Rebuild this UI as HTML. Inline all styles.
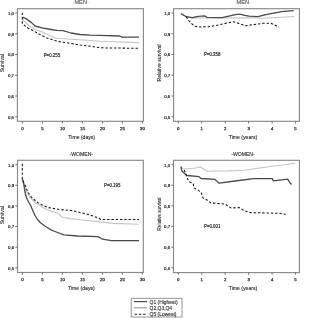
<!DOCTYPE html>
<html><head><meta charset="utf-8"><style>
html,body{margin:0;padding:0;background:#fff;width:300px;height:318px;overflow:hidden}
svg{display:block;filter:blur(0.5px)}
text{font-family:"Liberation Sans", sans-serif;fill:#2a2a2a;stroke:#2a2a2a;stroke-width:0.12px}
</style></head><body>
<svg width="300" height="318" viewBox="0 0 300 318">
<rect x="17.4" y="8.7" width="126.0" height="112.6" fill="none" stroke="#8a8a8a" stroke-width="1.15"/>
<line x1="15.2" y1="13.00" x2="17.4" y2="13.00" stroke="#5a5a5a" stroke-width="0.85"/>
<text x="13.999999999999998" y="14.85" text-anchor="end" font-size="4.3" style="stroke-width:0.22px">1,0</text>
<line x1="15.2" y1="33.76" x2="17.4" y2="33.76" stroke="#5a5a5a" stroke-width="0.85"/>
<text x="13.999999999999998" y="35.61" text-anchor="end" font-size="4.3" style="stroke-width:0.22px">0,9</text>
<line x1="15.2" y1="54.52" x2="17.4" y2="54.52" stroke="#5a5a5a" stroke-width="0.85"/>
<text x="13.999999999999998" y="56.37" text-anchor="end" font-size="4.3" style="stroke-width:0.22px">0,8</text>
<line x1="15.2" y1="75.28" x2="17.4" y2="75.28" stroke="#5a5a5a" stroke-width="0.85"/>
<text x="13.999999999999998" y="77.13" text-anchor="end" font-size="4.3" style="stroke-width:0.22px">0,7</text>
<line x1="15.2" y1="96.04" x2="17.4" y2="96.04" stroke="#5a5a5a" stroke-width="0.85"/>
<text x="13.999999999999998" y="97.89" text-anchor="end" font-size="4.3" style="stroke-width:0.22px">0,6</text>
<line x1="15.2" y1="116.80" x2="17.4" y2="116.80" stroke="#5a5a5a" stroke-width="0.85"/>
<text x="13.999999999999998" y="118.65" text-anchor="end" font-size="4.3" style="stroke-width:0.22px">0,5</text>
<line x1="22.40" y1="121.3" x2="22.40" y2="123.5" stroke="#5a5a5a" stroke-width="0.85"/>
<text x="22.40" y="130.00" text-anchor="middle" font-size="4.3" style="stroke-width:0.25px">0</text>
<line x1="42.40" y1="121.3" x2="42.40" y2="123.5" stroke="#5a5a5a" stroke-width="0.85"/>
<text x="42.40" y="130.00" text-anchor="middle" font-size="4.3" style="stroke-width:0.25px">5</text>
<line x1="62.40" y1="121.3" x2="62.40" y2="123.5" stroke="#5a5a5a" stroke-width="0.85"/>
<text x="62.40" y="130.00" text-anchor="middle" font-size="4.3" style="stroke-width:0.25px">10</text>
<line x1="82.40" y1="121.3" x2="82.40" y2="123.5" stroke="#5a5a5a" stroke-width="0.85"/>
<text x="82.40" y="130.00" text-anchor="middle" font-size="4.3" style="stroke-width:0.25px">15</text>
<line x1="102.40" y1="121.3" x2="102.40" y2="123.5" stroke="#5a5a5a" stroke-width="0.85"/>
<text x="102.40" y="130.00" text-anchor="middle" font-size="4.3" style="stroke-width:0.25px">20</text>
<line x1="122.40" y1="121.3" x2="122.40" y2="123.5" stroke="#5a5a5a" stroke-width="0.85"/>
<text x="122.40" y="130.00" text-anchor="middle" font-size="4.3" style="stroke-width:0.25px">25</text>
<line x1="142.40" y1="121.3" x2="142.40" y2="123.5" stroke="#5a5a5a" stroke-width="0.85"/>
<text x="142.40" y="130.00" text-anchor="middle" font-size="4.3" style="stroke-width:0.25px">30</text>
<text x="80.7" y="3.9" text-anchor="middle" font-size="5.7" fill-opacity="0.75" stroke-opacity="0.75"><tspan fill-opacity="0.3" stroke-opacity="0.3">-</tspan>MEN<tspan fill-opacity="0.3" stroke-opacity="0.3">-</tspan></text>
<text x="81.7" y="138.9" text-anchor="middle" font-size="5.1">Time (days)</text>
<text transform="translate(3.94,63.1) rotate(-90)" text-anchor="middle" font-size="5.1">Survival</text>
<text transform="translate(43.7,56.6) scale(0.84,1)" font-size="5.2" style="fill:#262626;stroke:#262626;stroke-width:0.2px">P=0.255</text>
<polyline points="22.3,19.5 30.0,26.5 36.0,29.5 42.0,32.0 55.0,38.0 60.0,38.5 80.0,39.7 100.0,41.2 139.0,42.6" fill="none" stroke="#c4c4c4" stroke-width="1.1" stroke-linejoin="round"/>
<polyline points="22.3,17.2 26.0,18.6 31.5,22.6 35.0,26.0 42.0,27.8 54.0,30.0 57.0,30.3 63.0,30.6 71.0,33.0 80.0,34.5 90.0,35.1 100.0,35.4 119.5,36.0 122.0,37.2 139.0,37.2" fill="none" stroke="#4a4a4a" stroke-width="1.3" stroke-linejoin="round"/>
<polyline points="22.3,12.7 22.3,23.4 24.7,25.7 28.2,28.2 31.5,29.8 39.0,34.0 47.0,38.0 55.0,40.6 60.0,41.7 80.0,44.9 100.0,47.6 105.0,47.9 139.0,48.3" fill="none" stroke="#151515" stroke-width="1.05" stroke-dasharray="2.4,1.9"/>
<rect x="173.6" y="8.7" width="125.79999999999998" height="112.6" fill="none" stroke="#8a8a8a" stroke-width="1.15"/>
<line x1="171.4" y1="13.00" x2="173.6" y2="13.00" stroke="#5a5a5a" stroke-width="0.85"/>
<text x="170.2" y="14.85" text-anchor="end" font-size="4.3" style="stroke-width:0.22px">1,0</text>
<line x1="171.4" y1="33.76" x2="173.6" y2="33.76" stroke="#5a5a5a" stroke-width="0.85"/>
<text x="170.2" y="35.61" text-anchor="end" font-size="4.3" style="stroke-width:0.22px">0,9</text>
<line x1="171.4" y1="54.52" x2="173.6" y2="54.52" stroke="#5a5a5a" stroke-width="0.85"/>
<text x="170.2" y="56.37" text-anchor="end" font-size="4.3" style="stroke-width:0.22px">0,8</text>
<line x1="171.4" y1="75.28" x2="173.6" y2="75.28" stroke="#5a5a5a" stroke-width="0.85"/>
<text x="170.2" y="77.13" text-anchor="end" font-size="4.3" style="stroke-width:0.22px">0,7</text>
<line x1="171.4" y1="96.04" x2="173.6" y2="96.04" stroke="#5a5a5a" stroke-width="0.85"/>
<text x="170.2" y="97.89" text-anchor="end" font-size="4.3" style="stroke-width:0.22px">0,6</text>
<line x1="171.4" y1="116.80" x2="173.6" y2="116.80" stroke="#5a5a5a" stroke-width="0.85"/>
<text x="170.2" y="118.65" text-anchor="end" font-size="4.3" style="stroke-width:0.22px">0,5</text>
<line x1="178.30" y1="121.3" x2="178.30" y2="123.5" stroke="#5a5a5a" stroke-width="0.85"/>
<text x="178.30" y="130.00" text-anchor="middle" font-size="4.3" style="stroke-width:0.25px">0</text>
<line x1="201.75" y1="121.3" x2="201.75" y2="123.5" stroke="#5a5a5a" stroke-width="0.85"/>
<text x="201.75" y="130.00" text-anchor="middle" font-size="4.3" style="stroke-width:0.25px">1</text>
<line x1="225.20" y1="121.3" x2="225.20" y2="123.5" stroke="#5a5a5a" stroke-width="0.85"/>
<text x="225.20" y="130.00" text-anchor="middle" font-size="4.3" style="stroke-width:0.25px">2</text>
<line x1="248.65" y1="121.3" x2="248.65" y2="123.5" stroke="#5a5a5a" stroke-width="0.85"/>
<text x="248.65" y="130.00" text-anchor="middle" font-size="4.3" style="stroke-width:0.25px">3</text>
<line x1="272.10" y1="121.3" x2="272.10" y2="123.5" stroke="#5a5a5a" stroke-width="0.85"/>
<text x="272.10" y="130.00" text-anchor="middle" font-size="4.3" style="stroke-width:0.25px">4</text>
<line x1="295.55" y1="121.3" x2="295.55" y2="123.5" stroke="#5a5a5a" stroke-width="0.85"/>
<text x="295.55" y="130.00" text-anchor="middle" font-size="4.3" style="stroke-width:0.25px">5</text>
<text x="242.9" y="3.9" text-anchor="middle" font-size="5.7" fill-opacity="0.75" stroke-opacity="0.75"><tspan fill-opacity="0.3" stroke-opacity="0.3">-</tspan>MEN<tspan fill-opacity="0.3" stroke-opacity="0.3">-</tspan></text>
<text x="243" y="139.0" text-anchor="middle" font-size="5.1">Time (years)</text>
<text transform="translate(161.44,63) rotate(-90)" text-anchor="middle" font-size="5.1">Relative survival</text>
<text transform="translate(204,56.4) scale(0.84,1)" font-size="5.2" style="fill:#262626;stroke:#262626;stroke-width:0.2px">P=0.358</text>
<polyline points="181.0,13.6 186.3,16.7 190.0,18.0 215.0,18.0 250.0,17.7 263.3,18.3 294.5,16.5" fill="none" stroke="#c4c4c4" stroke-width="1.1" stroke-linejoin="round"/>
<polyline points="181.0,13.6 186.3,16.7 192.3,17.7 198.3,16.3 205.0,15.9 207.0,17.4 222.0,17.7 236.7,14.3 240.7,14.3 244.7,15.3 249.0,16.2 257.8,16.6 267.0,14.3 281.7,11.6 293.6,10.7" fill="none" stroke="#4a4a4a" stroke-width="1.3" stroke-linejoin="round"/>
<polyline points="186.3,16.7 188.3,20.3 191.7,23.7 195.0,26.3 199.7,27.0 208.3,26.7 215.0,25.7 233.3,21.7 246.0,25.7 263.3,23.3 270.7,23.3 279.0,27.0" fill="none" stroke="#151515" stroke-width="1.05" stroke-dasharray="2.4,1.9"/>
<rect x="17.5" y="160.3" width="125.80000000000001" height="112.19999999999999" fill="none" stroke="#8a8a8a" stroke-width="1.15"/>
<line x1="15.3" y1="164.70" x2="17.5" y2="164.70" stroke="#5a5a5a" stroke-width="0.85"/>
<text x="14.1" y="166.55" text-anchor="end" font-size="4.3" style="stroke-width:0.22px">1,0</text>
<line x1="15.3" y1="185.32" x2="17.5" y2="185.32" stroke="#5a5a5a" stroke-width="0.85"/>
<text x="14.1" y="187.17" text-anchor="end" font-size="4.3" style="stroke-width:0.22px">0,9</text>
<line x1="15.3" y1="205.94" x2="17.5" y2="205.94" stroke="#5a5a5a" stroke-width="0.85"/>
<text x="14.1" y="207.79" text-anchor="end" font-size="4.3" style="stroke-width:0.22px">0,8</text>
<line x1="15.3" y1="226.56" x2="17.5" y2="226.56" stroke="#5a5a5a" stroke-width="0.85"/>
<text x="14.1" y="228.41" text-anchor="end" font-size="4.3" style="stroke-width:0.22px">0,7</text>
<line x1="15.3" y1="247.18" x2="17.5" y2="247.18" stroke="#5a5a5a" stroke-width="0.85"/>
<text x="14.1" y="249.03" text-anchor="end" font-size="4.3" style="stroke-width:0.22px">0,6</text>
<line x1="15.3" y1="267.80" x2="17.5" y2="267.80" stroke="#5a5a5a" stroke-width="0.85"/>
<text x="14.1" y="269.65" text-anchor="end" font-size="4.3" style="stroke-width:0.22px">0,5</text>
<line x1="22.40" y1="272.5" x2="22.40" y2="274.7" stroke="#5a5a5a" stroke-width="0.85"/>
<text x="22.40" y="280.80" text-anchor="middle" font-size="4.3" style="stroke-width:0.25px">0</text>
<line x1="42.40" y1="272.5" x2="42.40" y2="274.7" stroke="#5a5a5a" stroke-width="0.85"/>
<text x="42.40" y="280.80" text-anchor="middle" font-size="4.3" style="stroke-width:0.25px">5</text>
<line x1="62.40" y1="272.5" x2="62.40" y2="274.7" stroke="#5a5a5a" stroke-width="0.85"/>
<text x="62.40" y="280.80" text-anchor="middle" font-size="4.3" style="stroke-width:0.25px">10</text>
<line x1="82.40" y1="272.5" x2="82.40" y2="274.7" stroke="#5a5a5a" stroke-width="0.85"/>
<text x="82.40" y="280.80" text-anchor="middle" font-size="4.3" style="stroke-width:0.25px">15</text>
<line x1="102.40" y1="272.5" x2="102.40" y2="274.7" stroke="#5a5a5a" stroke-width="0.85"/>
<text x="102.40" y="280.80" text-anchor="middle" font-size="4.3" style="stroke-width:0.25px">20</text>
<line x1="122.40" y1="272.5" x2="122.40" y2="274.7" stroke="#5a5a5a" stroke-width="0.85"/>
<text x="122.40" y="280.80" text-anchor="middle" font-size="4.3" style="stroke-width:0.25px">25</text>
<line x1="142.40" y1="272.5" x2="142.40" y2="274.7" stroke="#5a5a5a" stroke-width="0.85"/>
<text x="142.40" y="280.80" text-anchor="middle" font-size="4.3" style="stroke-width:0.25px">30</text>
<text x="81.3" y="155.8" text-anchor="middle" font-size="5.1">-WOMEN-</text>
<text x="81.4" y="290.3" text-anchor="middle" font-size="5.1">Time (days)</text>
<text transform="translate(3.84,215.2) rotate(-90)" text-anchor="middle" font-size="5.1">Survival</text>
<text transform="translate(104,187.1) scale(0.84,1)" font-size="5.2" style="fill:#262626;stroke:#262626;stroke-width:0.2px">P=0.195</text>
<polyline points="22.3,178.7 24.0,184.0 25.5,189.0 27.5,193.5 30.0,197.5 35.7,203.0 43.6,208.0 51.5,211.3 58.0,213.3 62.0,217.0 70.0,218.6 85.0,220.2 98.0,221.6 113.0,223.4 139.0,224.2" fill="none" stroke="#c4c4c4" stroke-width="1.1" stroke-linejoin="round"/>
<polyline points="22.3,178.7 22.7,180.0 23.8,184.2 24.6,190.0 25.8,195.8 27.5,200.0 30.4,205.0 33.0,211.0 35.0,215.5 37.5,219.5 40.5,222.8 45.2,226.2 51.5,230.2 55.0,231.5 64.0,234.8 77.5,236.0 98.0,236.6 102.5,239.2 111.5,240.7 139.0,240.7" fill="none" stroke="#4a4a4a" stroke-width="1.3" stroke-linejoin="round"/>
<polyline points="22.3,163.8 22.3,178.7 23.3,181.7 25.4,185.8 27.1,190.4 29.2,194.2 31.7,197.5 35.0,200.4 38.3,202.9 41.7,204.8 48.3,207.6 60.0,209.6 71.5,210.5 80.0,212.5 88.5,214.5 98.0,217.8 101.0,219.5 139.0,219.5" fill="none" stroke="#151515" stroke-width="1.05" stroke-dasharray="2.4,1.9"/>
<rect x="173.5" y="160.3" width="125.89999999999998" height="112.30000000000001" fill="none" stroke="#8a8a8a" stroke-width="1.15"/>
<line x1="171.3" y1="164.70" x2="173.5" y2="164.70" stroke="#5a5a5a" stroke-width="0.85"/>
<text x="170.1" y="166.55" text-anchor="end" font-size="4.3" style="stroke-width:0.22px">1,0</text>
<line x1="171.3" y1="185.32" x2="173.5" y2="185.32" stroke="#5a5a5a" stroke-width="0.85"/>
<text x="170.1" y="187.17" text-anchor="end" font-size="4.3" style="stroke-width:0.22px">0,9</text>
<line x1="171.3" y1="205.94" x2="173.5" y2="205.94" stroke="#5a5a5a" stroke-width="0.85"/>
<text x="170.1" y="207.79" text-anchor="end" font-size="4.3" style="stroke-width:0.22px">0,8</text>
<line x1="171.3" y1="226.56" x2="173.5" y2="226.56" stroke="#5a5a5a" stroke-width="0.85"/>
<text x="170.1" y="228.41" text-anchor="end" font-size="4.3" style="stroke-width:0.22px">0,7</text>
<line x1="171.3" y1="247.18" x2="173.5" y2="247.18" stroke="#5a5a5a" stroke-width="0.85"/>
<text x="170.1" y="249.03" text-anchor="end" font-size="4.3" style="stroke-width:0.22px">0,6</text>
<line x1="171.3" y1="267.80" x2="173.5" y2="267.80" stroke="#5a5a5a" stroke-width="0.85"/>
<text x="170.1" y="269.65" text-anchor="end" font-size="4.3" style="stroke-width:0.22px">0,5</text>
<line x1="178.30" y1="272.6" x2="178.30" y2="274.8" stroke="#5a5a5a" stroke-width="0.85"/>
<text x="178.30" y="280.70" text-anchor="middle" font-size="4.3" style="stroke-width:0.25px">0</text>
<line x1="201.75" y1="272.6" x2="201.75" y2="274.8" stroke="#5a5a5a" stroke-width="0.85"/>
<text x="201.75" y="280.70" text-anchor="middle" font-size="4.3" style="stroke-width:0.25px">1</text>
<line x1="225.20" y1="272.6" x2="225.20" y2="274.8" stroke="#5a5a5a" stroke-width="0.85"/>
<text x="225.20" y="280.70" text-anchor="middle" font-size="4.3" style="stroke-width:0.25px">2</text>
<line x1="248.65" y1="272.6" x2="248.65" y2="274.8" stroke="#5a5a5a" stroke-width="0.85"/>
<text x="248.65" y="280.70" text-anchor="middle" font-size="4.3" style="stroke-width:0.25px">3</text>
<line x1="272.10" y1="272.6" x2="272.10" y2="274.8" stroke="#5a5a5a" stroke-width="0.85"/>
<text x="272.10" y="280.70" text-anchor="middle" font-size="4.3" style="stroke-width:0.25px">4</text>
<line x1="295.55" y1="272.6" x2="295.55" y2="274.8" stroke="#5a5a5a" stroke-width="0.85"/>
<text x="295.55" y="280.70" text-anchor="middle" font-size="4.3" style="stroke-width:0.25px">5</text>
<text x="243" y="155.8" text-anchor="middle" font-size="5.1">-WOMEN-</text>
<text x="243" y="290.40000000000003" text-anchor="middle" font-size="5.1">Time (years)</text>
<text transform="translate(160.82,214) rotate(-90)" text-anchor="middle" font-size="4.5">Relative survival</text>
<text transform="translate(204,228.4) scale(0.84,1)" font-size="5.2" style="fill:#262626;stroke:#262626;stroke-width:0.2px">P=0.001</text>
<polyline points="181.0,166.7 183.0,168.7 188.3,168.7 195.0,168.0 200.3,167.0 207.0,171.3 215.0,171.0 227.0,170.9 233.0,170.7 244.0,170.2 265.0,167.2 295.3,163.2" fill="none" stroke="#c4c4c4" stroke-width="1.1" stroke-linejoin="round"/>
<polyline points="181.0,166.7 181.7,170.7 184.3,173.3 187.0,175.5 199.0,176.6 201.0,178.5 215.0,179.4 219.0,183.2 235.0,181.0 253.8,178.7 272.5,178.7 273.2,180.8 287.7,179.2 289.0,181.3 291.4,184.5" fill="none" stroke="#4a4a4a" stroke-width="1.3" stroke-linejoin="round"/>
<polyline points="184.3,170.0 187.7,179.3 189.7,182.0 193.0,183.3 194.3,188.0 197.7,190.0 201.0,192.0 203.0,198.0 207.0,200.0 211.0,203.0 225.0,204.0 231.0,208.0 239.0,207.6 245.0,211.0 250.5,212.6 279.1,213.3 285.7,214.4" fill="none" stroke="#151515" stroke-width="1.05" stroke-dasharray="2.4,1.9"/>
<rect x="131.2" y="298.3" width="50.8" height="18.7" fill="none" stroke="#8a8a8a" stroke-width="0.9"/>
<line x1="134" y1="301.6" x2="147" y2="301.6" stroke="#4a4a4a" stroke-width="1.2"/>
<line x1="134" y1="307.8" x2="147" y2="307.8" stroke="#999" stroke-width="1.1"/>
<line x1="134.6" y1="314.3" x2="145.9" y2="314.3" stroke="#4a4a4a" stroke-width="1.2" stroke-dasharray="2.5,1.75"/>
<text x="149.6" y="304.0" font-size="4.95">Q1 (Highest)</text>
<text x="149.6" y="310.1" font-size="4.95">Q2,Q3,Q4</text>
<text x="149.6" y="315.6" font-size="4.95">Q5 (Lowest)</text>
</svg>
</body></html>
